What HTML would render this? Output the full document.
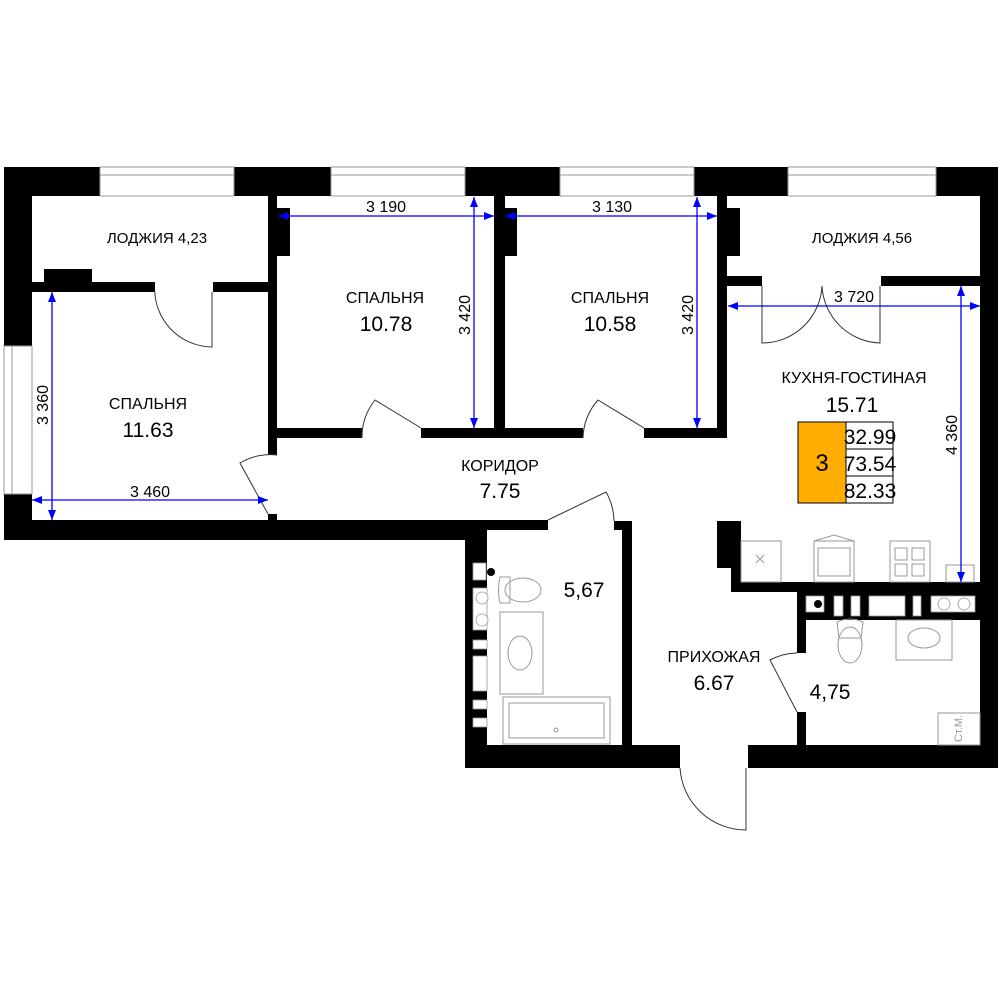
<!DOCTYPE html>
<html><head><meta charset="utf-8"><style>
html,body{margin:0;padding:0;background:#fff;}
svg{display:block;}
text{font-family:"Liberation Sans","DejaVu Sans",sans-serif;fill:#000;}
</style></head><body>
<svg width="1000" height="1000" viewBox="0 0 1000 1000" xmlns="http://www.w3.org/2000/svg">
<defs>
<marker id="ar" viewBox="0 0 10 10" refX="10" refY="5" markerWidth="10" markerHeight="10" orient="auto-start-reverse" markerUnits="userSpaceOnUse"><path d="M0,1 L10,5 L0,9 z" fill="#0000ff"/></marker>
</defs>
<g fill="#000">
<rect x="4" y="167" width="994" height="29"/>
<rect x="4" y="167" width="28" height="179"/>
<rect x="4" y="494" width="28" height="46"/>
<rect x="4" y="520" width="264" height="20"/>
<rect x="268" y="514" width="9" height="26"/>
<rect x="268" y="530" width="200" height="10"/>
<rect x="277" y="520" width="271" height="10"/>
<rect x="32" y="282" width="123" height="10"/>
<rect x="213" y="282" width="55" height="10"/>
<rect x="44" y="269" width="48" height="14"/>
<rect x="268" y="196" width="9" height="259"/>
<rect x="277" y="208" width="13" height="48"/>
<rect x="277" y="428" width="85" height="10"/>
<rect x="421" y="428" width="84" height="10"/>
<rect x="494" y="196" width="11" height="242"/>
<rect x="505" y="208" width="12" height="48"/>
<rect x="505" y="428" width="78" height="10"/>
<rect x="644" y="428" width="83" height="10"/>
<rect x="717" y="196" width="10" height="242"/>
<rect x="727" y="208" width="13" height="48"/>
<rect x="727" y="276" width="35" height="10"/>
<rect x="881" y="276" width="99" height="10"/>
<rect x="980" y="167" width="18" height="601"/>
<rect x="465" y="530" width="22" height="238"/>
<rect x="465" y="745" width="215" height="23"/>
<rect x="614" y="521" width="18" height="9"/>
<rect x="622" y="521" width="10" height="224"/>
<rect x="748" y="745" width="250" height="23"/>
<rect x="717" y="521" width="24" height="47"/>
<rect x="731" y="560" width="10" height="32"/>
<rect x="731" y="582" width="249" height="10"/>
<rect x="797" y="592" width="183" height="28"/>
<rect x="797" y="592" width="9" height="61"/>
<rect x="797" y="712" width="9" height="33"/>
</g>
<g fill="#fff" stroke="#999" stroke-width="1">
<rect x="100" y="167" width="134" height="29"/>
<rect x="331" y="167" width="134" height="29"/>
<rect x="560" y="167" width="134" height="29"/>
<rect x="788" y="167" width="148" height="29"/>
<rect x="4" y="346" width="28" height="148"/>
</g>
<g stroke="#999" stroke-width="1" fill="none">
<line x1="100" y1="175" x2="234" y2="175"/><line x1="331" y1="175" x2="465" y2="175"/>
<line x1="560" y1="175" x2="694" y2="175"/><line x1="788" y1="175" x2="936" y2="175"/>
<line x1="12" y1="346" x2="12" y2="494"/>
</g>
<g fill="#fff" stroke="#999" stroke-width="0.8">
<rect x="806" y="596" width="18" height="16"/>
<rect x="834" y="596" width="9" height="20"/>
<rect x="851" y="596" width="9" height="20"/>
<rect x="869" y="596" width="36" height="20"/>
<rect x="913" y="596" width="8" height="20"/>
<rect x="931" y="596" width="44" height="16"/>
<circle cx="944" cy="604" r="6"/><circle cx="964" cy="604" r="6"/>
<rect x="473" y="563" width="13" height="17"/>
<rect x="473" y="588" width="14" height="42"/>
<circle cx="482" cy="598" r="6"/><circle cx="482" cy="620" r="6"/>
<rect x="473" y="640" width="14" height="9"/>
<rect x="473" y="656" width="14" height="35"/>
<rect x="473" y="700" width="14" height="9"/>
<rect x="473" y="718" width="14" height="9"/>
</g>
<circle cx="818" cy="604" r="4" fill="#000"/>
<circle cx="491" cy="572" r="4" fill="#000"/>
<g stroke="#333" stroke-width="1" fill="none">
<path d="M155,292 L155,295 A58,58 0 0 0 212,347 L212,292"/>
<path d="M362,438 A60,60 0 0 1 375,400 L421,428"/>
<path d="M583,438 A60,60 0 0 1 598,400 L644,428"/>
<path d="M762,286 L762,343 A60,60 0 0 0 822,286 A60,60 0 0 0 880,343 L880,286"/>
<path d="M277,455 A60,60 0 0 0 240,463 L268,514"/>
<path d="M548,520 L606,492 A60,60 0 0 1 614,521"/>
<path d="M680,768 A66,66 0 0 0 746,830 L746,768"/>
<path d="M797,653 A60,60 0 0 0 770,660 L797,712"/>
</g>
<g stroke="#999" stroke-width="1" fill="none">
<rect x="741" y="541" width="40" height="41"/>
<path d="M756,555 l8,8 M764,555 l-8,8"/>
<rect x="814" y="541" width="40" height="41"/><rect x="818" y="548" width="32" height="28"/>
<path d="M814,541 L834,535 L854,541"/>
<rect x="890" y="541" width="40" height="41"/>
<rect x="895" y="548" width="12" height="12"/><rect x="912" y="548" width="12" height="12"/>
<rect x="895" y="564" width="12" height="12"/><rect x="912" y="564" width="12" height="12"/>
<rect x="946" y="565" width="28" height="17"/>
<ellipse cx="850" cy="645" rx="12" ry="18"/><path d="M837,622 q13,-6 26,0 l-2,16 h-22 z"/>
<rect x="896" y="620" width="56" height="40"/><ellipse cx="924" cy="638" rx="16" ry="10"/>
<rect x="938" y="713" width="42" height="32"/>
<ellipse cx="523" cy="590" rx="18" ry="12"/><path d="M500,577 q-3,13 0,26 h10 v-26 z"/>
<rect x="500" y="612" width="43" height="82"/><ellipse cx="520" cy="653" rx="12" ry="17"/>
<rect x="503" y="697" width="107" height="47"/><rect x="509" y="703" width="95" height="35"/>
<circle cx="556" cy="730" r="2"/>
</g>
<text x="962" y="742" font-size="11" transform="rotate(-90 962 742)" style="fill:#999">Ст.М.</text>
<g stroke="#0000ff" stroke-width="1.3" fill="none">
<line x1="278" y1="216" x2="494" y2="216" marker-start="url(#ar)" marker-end="url(#ar)"/>
<line x1="474" y1="197" x2="474" y2="428" marker-start="url(#ar)" marker-end="url(#ar)"/>
<line x1="505" y1="216" x2="717" y2="216" marker-start="url(#ar)" marker-end="url(#ar)"/>
<line x1="697" y1="197" x2="697" y2="428" marker-start="url(#ar)" marker-end="url(#ar)"/>
<line x1="728" y1="306" x2="980" y2="306" marker-start="url(#ar)" marker-end="url(#ar)"/>
<line x1="961" y1="286" x2="961" y2="582" marker-start="url(#ar)" marker-end="url(#ar)"/>
<line x1="52" y1="292" x2="52" y2="520" marker-start="url(#ar)" marker-end="url(#ar)"/>
<line x1="32" y1="500" x2="268" y2="500" marker-start="url(#ar)" marker-end="url(#ar)"/>
</g>
<g font-size="16">
<text x="386" y="212" text-anchor="middle">3 190</text>
<text x="612" y="212" text-anchor="middle">3 130</text>
<text x="854" y="302" text-anchor="middle">3 720</text>
<text x="150" y="497" text-anchor="middle">3 460</text>
<text x="470" y="315" text-anchor="middle" transform="rotate(-90 470 315)">3 420</text>
<text x="693" y="315" text-anchor="middle" transform="rotate(-90 693 315)">3 420</text>
<text x="957" y="435" text-anchor="middle" transform="rotate(-90 957 435)">4 360</text>
<text x="48" y="405" text-anchor="middle" transform="rotate(-90 48 405)">3 360</text>
</g>
<g text-anchor="middle">
<text x="157" y="243" font-size="15">ЛОДЖИЯ 4,23</text>
<text x="862" y="243" font-size="15">ЛОДЖИЯ 4,56</text>
<text x="385" y="303" font-size="16">СПАЛЬНЯ</text>
<text x="386" y="331" font-size="21">10.78</text>
<text x="610" y="303" font-size="16">СПАЛЬНЯ</text>
<text x="610" y="331" font-size="21">10.58</text>
<text x="148" y="409" font-size="16">СПАЛЬНЯ</text>
<text x="148" y="437" font-size="21">11.63</text>
<text x="854" y="383" font-size="16">КУХНЯ-ГОСТИНАЯ</text>
<text x="852" y="412" font-size="21">15.71</text>
<text x="500" y="471" font-size="16">КОРИДОР</text>
<text x="500" y="498" font-size="21">7.75</text>
<text x="584" y="597" font-size="21">5,67</text>
<text x="714" y="662" font-size="16">ПРИХОЖАЯ</text>
<text x="714" y="690" font-size="21">6.67</text>
<text x="830" y="699" font-size="21">4,75</text>
</g>
<rect x="798" y="422" width="48" height="81" fill="#ffad00" stroke="#000" stroke-width="1"/>
<g fill="#fff" stroke="#000" stroke-width="1">
<rect x="846" y="422" width="47" height="27"/><rect x="846" y="449" width="47" height="27"/><rect x="846" y="476" width="47" height="27"/>
</g>
<text x="822" y="471" font-size="24" text-anchor="middle">3</text>
<g font-size="21" text-anchor="middle">
<text x="870" y="444">32.99</text><text x="870" y="471">73.54</text><text x="870" y="498">82.33</text>
</g>
</svg>
</body></html>
